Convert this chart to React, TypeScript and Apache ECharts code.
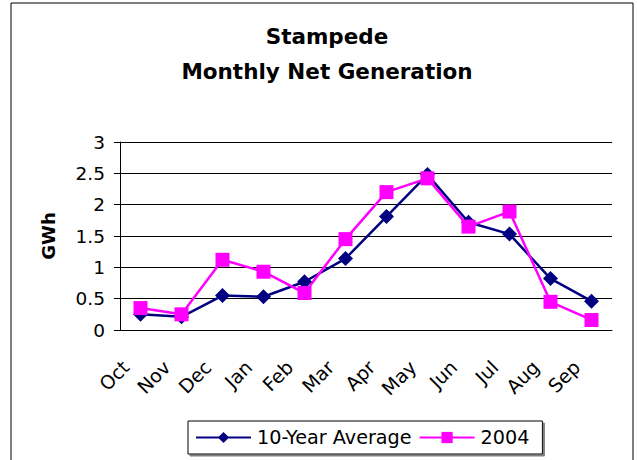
import React, { useEffect, useRef } from "react";
import * as echarts from "echarts";

const months = ["Oct", "Nov", "Dec", "Jan", "Feb", "Mar", "Apr", "May", "Jun", "Jul", "Aug", "Sep"];
const tenYearAverage = [0.25, 0.21, 0.55, 0.53, 0.77, 1.14, 1.81, 2.48, 1.72, 1.53, 0.82, 0.46];
const year2004 = [0.35, 0.25, 1.12, 0.93, 0.59, 1.45, 2.2, 2.42, 1.65, 1.89, 0.45, 0.16];
const seriesNames = ["10-Year Average", "2004"];
const titleText = "Stampede\nMonthly Net Generation";
const yAxisName = "GWh";

const FONT = "DejaVu Sans";

export default function App() {
  const ref = useRef<HTMLDivElement>(null);
  useEffect(() => {
    if (!ref.current) return;
    const chart = echarts.init(ref.current, undefined, { renderer: "svg" });
    chart.setOption({
      animation: false,
      backgroundColor: "#ffffff",
      textStyle: { fontFamily: FONT, color: "#000" },
      title: {
        text: titleText,
        left: 322,
        top: 14,
        textAlign: "center",
        textStyle: { fontFamily: FONT, fontSize: 21.5, fontWeight: "bold", lineHeight: 35, color: "#000" },
      },
      graphic: [
        {
          type: "rect",
          shape: { x: 11, y: 3, width: 622, height: 480 },
          style: { fill: "none", stroke: "#000", lineWidth: 1 },
          silent: true,
          z: 0,
        },
      ],
      grid: { left: 120, top: 142, right: 25, bottom: 130, containLabel: false },
      legend: {
        left: 188,
        top: 421,
        itemWidth: 55,
        itemHeight: 14,
        itemGap: 7,
        padding: [7, 13, 7, 7],
        borderColor: "#000",
        borderWidth: 1,
        backgroundColor: "#fff",
        shadowColor: "#808080",
        shadowOffsetX: 2,
        shadowOffsetY: 2,
        shadowBlur: 0,
        textStyle: { fontFamily: FONT, fontSize: 19.2, color: "#000", padding: [0, 0, 0, 1] },
        data: seriesNames,
      },
      xAxis: {
        type: "category",
        data: months,
        boundaryGap: true,
        axisLine: { lineStyle: { color: "#000", width: 1 } },
        axisTick: { length: 6, lineStyle: { color: "#000" } },
        axisLabel: {
          rotate: 45,
          margin: 19,
          padding: [0, 21, 0, 0],
          fontFamily: FONT,
          fontSize: 19,
          color: "#000",
          interval: 0,
        },
      },
      yAxis: {
        type: "value",
        min: 0,
        max: 3,
        interval: 0.5,
        name: yAxisName,
        nameLocation: "middle",
        nameGap: 63,
        nameTextStyle: { fontFamily: FONT, fontSize: 18, fontWeight: "bold", color: "#000" },
        axisLine: { show: true, lineStyle: { color: "#000", width: 1 } },
        axisTick: { show: true, length: 6, lineStyle: { color: "#000" } },
        axisLabel: { margin: 15, fontFamily: FONT, fontSize: 18.5, color: "#000" },
        splitLine: { show: true, lineStyle: { color: "#000", width: 1 } },
      },
      series: [
        {
          name: seriesNames[0],
          type: "line",
          data: tenYearAverage,
          symbol: "diamond",
          symbolSize: 15,
          lineStyle: { color: "#000080", width: 2.5 },
          itemStyle: { color: "#000080" },
        },
        {
          name: seriesNames[1],
          type: "line",
          data: year2004,
          symbol: "rect",
          symbolSize: 14,
          lineStyle: { color: "#ff00ff", width: 2.5 },
          itemStyle: { color: "#ff00ff" },
        },
      ],
    });
    return () => chart.dispose();
  }, []);
  return <div ref={ref} style={{ position: "absolute", left: 0, top: 0, width: 637, height: 460 }} />;
}
